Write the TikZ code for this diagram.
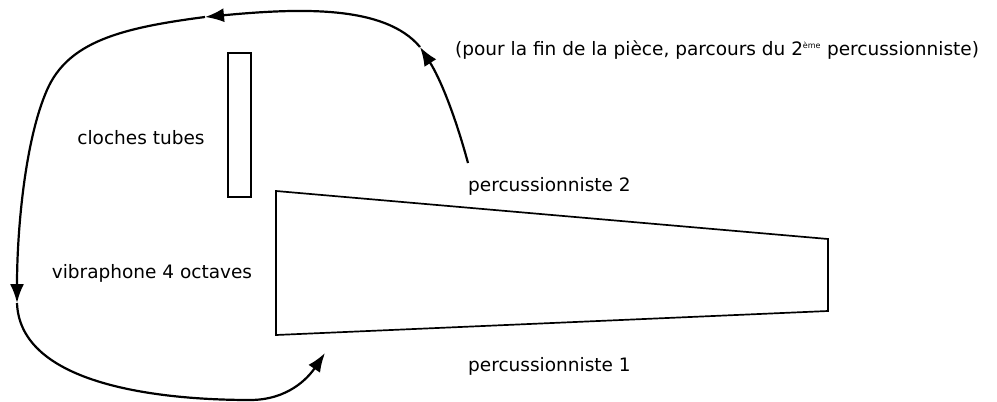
\documentclass[tikz,border=0pt]{standalone}
\usepackage{fontspec}
\setmainfont{DejaVu Sans}
\usetikzlibrary{arrows.meta}

\begin{document}
\begin{tikzpicture}[
    x=1pt, y=-1pt,
    % Styles for labels, instruments and the route
    label/.style={inner sep=0pt, font=\fontsize{18.5}{22}\selectfont},
    instrument/.style={draw, line width=1.7pt, line join=miter},
    route/.style={-{Latex[length=19pt, width=14pt]}, line width=2.2pt}
]
    \useasboundingbox (0,0) rectangle (997,402);

    % --- INSTRUMENTS ---
    \draw [instrument] (228,53) rectangle (251,197);
    \draw [instrument] (276,191) -- (828,239) -- (828,311) -- (276,335) -- cycle;

    % --- LABELS ---
    \node [label] (cloches) at (141,138) {cloches tubes};
    \node [label] (vibra) at (152,273) {vibraphone 4 octaves};
    \node [label, anchor=base west] (perc2) at (468,191) {percussionniste 2};
    \node [label, anchor=base west] (perc1) at (468,371) {percussionniste 1};
    \node [label, anchor=base west] (note) at (455,55)
        {(pour la fin de la pièce, parcours du 2\textsuperscript{\fontsize{8}{8}\selectfont ème} percussionniste)};

    % --- ROUTE ---
    \coordinate (start) at (468,163);
    \coordinate (t1) at (420,47);
    \coordinate (t2) at (205,17);
    \coordinate (t3) at (17,303);
    \coordinate (t4) at (325,353);

    \draw [route] (start) .. controls (455,115) and (440,78) .. (t1);
    \draw [route] (t1) .. controls (385,5) and (300,8) .. (t2);
    \draw [route] (t2) .. controls (120,28) and (68,42) .. (47,90)
        .. controls (25,140) and (17,230) .. (t3);
    \draw [route] (t3) .. controls (20,385) and (160,400) .. (250,400)
        .. controls (288,400) and (308,378) .. (t4);

\end{tikzpicture}
\end{document}
